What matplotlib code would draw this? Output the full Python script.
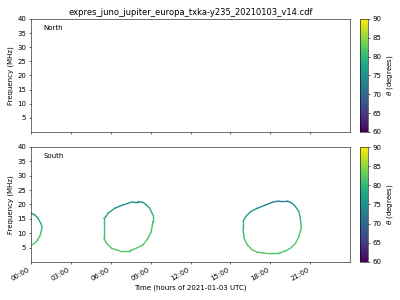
import numpy as np
import matplotlib
matplotlib.use("Agg")
import matplotlib.pyplot as plt
from matplotlib.collections import LineCollection
from matplotlib.colors import Normalize

title = "expres_juno_jupiter_europa_txka-y235_20210103_v14.cdf"
xtick_hours = [0, 3, 6, 9, 12, 15, 18, 21]
xtick_labels = ["00:00", "03:00", "06:00", "09:00", "12:00", "15:00", "18:00", "21:00"]
yticks = [5, 10, 15, 20, 25, 30, 35, 40]
cbar_ticks = [60, 65, 70, 75, 80, 85, 90]

# South hemisphere emission contours (hours, MHz, theta deg)
loop1_t = [0.02, 0.28, 0.53, 0.73, 0.83, 0.77, 0.65, 0.40, 0.08]
loop1_f = [16.94, 16.35, 15.20, 13.46, 12.28, 10.54, 8.80, 7.06, 5.91]
loop1_th = [74, 75, 77, 79, 80, 81, 81, 82, 82]

loop2_t = [7.67, 8.05, 8.42, 8.68, 8.93, 9.17, 9.17, 9.05, 8.80, 8.42, 7.93, 7.43, 6.68,
           6.05, 5.68, 5.48, 5.48, 5.63, 5.80, 6.30, 6.92, 7.67]
loop2_f = [20.97, 20.97, 20.76, 19.83, 18.68, 16.35, 14.02, 10.54, 8.24, 5.91, 4.77, 3.83, 3.83,
           4.77, 6.50, 8.24, 15.20, 15.76, 16.94, 18.68, 19.83, 20.97]
loop2_th = [74, 74, 75, 77, 78, 80, 81, 81, 82, 82, 82, 82, 82,
            82, 82, 81, 80, 78, 77, 76, 75, 74]

loop3_t = [18.65, 19.28, 19.65, 19.90, 20.15, 20.27, 20.33, 20.15, 19.90, 19.52, 19.15, 18.65,
           18.15, 17.65, 17.03, 16.65, 16.28, 16.03, 15.95, 15.95, 16.15, 16.52, 17.03, 17.65,
           18.15, 18.65]
loop3_f = [21.22, 21.22, 20.42, 19.23, 17.50, 15.20, 11.72, 8.80, 6.50, 4.77, 3.83, 3.03,
           3.03, 3.03, 3.37, 4.17, 5.91, 8.24, 11.72, 14.02, 15.76, 17.50, 18.68, 19.83,
           20.76, 21.22]
loop3_th = [73, 73, 74, 76, 78, 80, 81, 82, 82, 82, 82, 82,
            82, 82, 82, 82, 82, 81, 80, 79, 77, 76, 75, 74,
            73, 73]

cmap = plt.get_cmap("viridis")
norm = Normalize(vmin=60, vmax=90)

fig = plt.figure(figsize=(8, 6), dpi=50)
ax1 = fig.add_axes([0.0775, 0.56, 0.7975, 0.377])
ax2 = fig.add_axes([0.0775, 0.127, 0.7975, 0.383])
cax1 = fig.add_axes([0.9, 0.56, 0.02, 0.377])
cax2 = fig.add_axes([0.9, 0.127, 0.02, 0.383])


def draw_loop(ax, t, f, th):
    pts = np.column_stack([t, f]).reshape(-1, 1, 2)
    segs = np.concatenate([pts[:-1], pts[1:]], axis=1)
    vals = 0.5 * (np.array(th[:-1]) + np.array(th[1:]))
    lc = LineCollection(segs, cmap=cmap, norm=norm, linewidth=2.0, capstyle="round")
    lc.set_array(vals)
    ax.add_collection(lc)


for t, f, th in [(loop1_t, loop1_f, loop1_th), (loop2_t, loop2_f, loop2_th), (loop3_t, loop3_f, loop3_th)]:
    draw_loop(ax2, t, f, th)

for ax, name in [(ax1, "North"), (ax2, "South")]:
    ax.set_xlim(0, 24)
    ax.set_ylim(0, 40)
    ax.set_yticks(yticks)
    ax.set_xticks(xtick_hours)
    ax.set_ylabel("Frequency (MHz)")
    ax.text(0.04, 0.9, name, transform=ax.transAxes, fontsize=10)

ax1.set_xticklabels([])
ax2.set_xticklabels(xtick_labels, rotation=30, ha="right")
ax2.set_xlabel("Time (hours of 2021-01-03 UTC)")
ax1.set_title(title, fontsize=12)

sm = plt.cm.ScalarMappable(norm=norm, cmap=cmap)
for cax in (cax1, cax2):
    cb = fig.colorbar(sm, cax=cax)
    cb.set_ticks(cbar_ticks)
    cb.set_label(r"$\theta$ (degrees)")

fig.savefig("out.png", dpi=50)
